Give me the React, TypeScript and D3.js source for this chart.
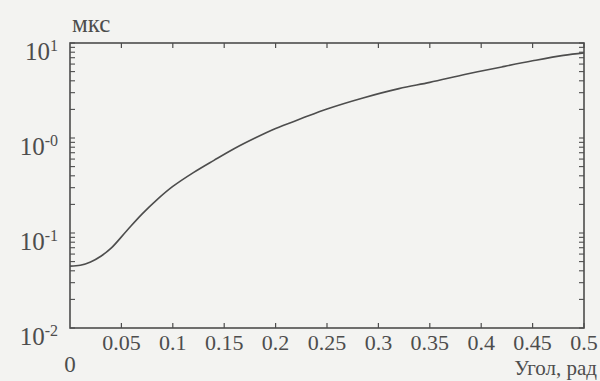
import React from "react";
import * as d3 from "d3";

// delay (мкс) vs angle (рад)
const angle = [0, 0.01, 0.02, 0.03, 0.04, 0.055, 0.07, 0.085, 0.1, 0.12, 0.14, 0.16, 0.18, 0.2, 0.225, 0.25, 0.285, 0.32, 0.35, 0.385, 0.42, 0.45, 0.48, 0.5];
const delay = [0.0448, 0.0457, 0.0495, 0.0569, 0.0692, 0.105, 0.158, 0.226, 0.309, 0.432, 0.582, 0.776, 1.0, 1.26, 1.6, 2.02, 2.64, 3.31, 3.85, 4.68, 5.6, 6.49, 7.41, 7.87];

const xTicks = [0.05, 0.1, 0.15, 0.2, 0.25, 0.3, 0.35, 0.4, 0.45, 0.5];
const xTickLabels = ["0.05", "0.1", "0.15", "0.2", "0.25", "0.3", "0.35", "0.4", "0.45", "0.5"];
const yMajor = [10, 1, 0.1, 0.01];
const yExp = ["1", "-0", "-1", "-2"];

const W = 600,
  H = 381;
const margin = { top: 43, right: 16, bottom: 53, left: 70 };
const ink = "#4d4d4d";
const font = "Liberation Serif, Times New Roman, serif";

export default function App() {
  const x = d3.scaleLinear().domain([0, 0.5]).range([margin.left, W - margin.right]);
  const y = d3.scaleLog().domain([0.01, 10]).range([H - margin.bottom, margin.top]);
  const pts: [number, number][] = angle.map((a, i) => [x(a), y(delay[i])]);
  const path = d3.line().curve(d3.curveCatmullRom)(pts) || "";
  const x0 = margin.left,
    x1 = W - margin.right,
    y0 = H - margin.bottom,
    y1 = margin.top;
  const tl = 5;

  return (
    <svg width={W} height={H} style={{ position: "absolute", left: 0, top: 0, background: "#f3f3f1" }}>
      {/* frame */}
      <rect x={x0} y={y1} width={x1 - x0} height={y0 - y1} fill="none" stroke={ink} strokeWidth={1.6} />
      {/* x ticks, top and bottom, inward */}
      {xTicks.map((t) => (
        <g key={"xt" + t} stroke={ink} strokeWidth={1.2}>
          <line x1={x(t)} x2={x(t)} y1={y0} y2={y0 - tl} />
          <line x1={x(t)} x2={x(t)} y1={y1} y2={y1 + tl} />
        </g>
      ))}
      {/* y log ticks, left and right, inward */}
      {y.ticks().map((t, i) => (
        <g key={"yt" + i} stroke={ink} strokeWidth={1.1}>
          <line x1={x0} x2={x0 + tl} y1={y(t)} y2={y(t)} />
          <line x1={x1} x2={x1 - tl} y1={y(t)} y2={y(t)} />
        </g>
      ))}
      {/* curve */}
      <path d={path} fill="none" stroke={ink} strokeWidth={1.6} />
      {/* y labels */}
      {yMajor.map((v, i) => (
        <text key={"yl" + v} x={58} y={y(v) + 17} textAnchor="end" fontFamily={font} fontSize={25} fill={ink}>
          10
          <tspan fontSize={16} dy={-9}>
            {yExp[i]}
          </tspan>
        </text>
      ))}
      {/* x labels */}
      <text x={x(0)} y={372} textAnchor="middle" fontFamily={font} fontSize={23} fill={ink}>
        0
      </text>
      {xTicks.map((t, i) => (
        <text key={"xl" + t} x={x(t)} y={350} textAnchor="middle" fontFamily={font} fontSize={22} fill={ink}>
          {xTickLabels[i]}
        </text>
      ))}
      <text x={72} y={32} fontFamily={font} fontSize={25} fill={ink}>
        мкс
      </text>
      <text x={597} y={375} textAnchor="end" fontFamily={font} fontSize={21} fill={ink}>
        Угол, рад
      </text>
    </svg>
  );
}
